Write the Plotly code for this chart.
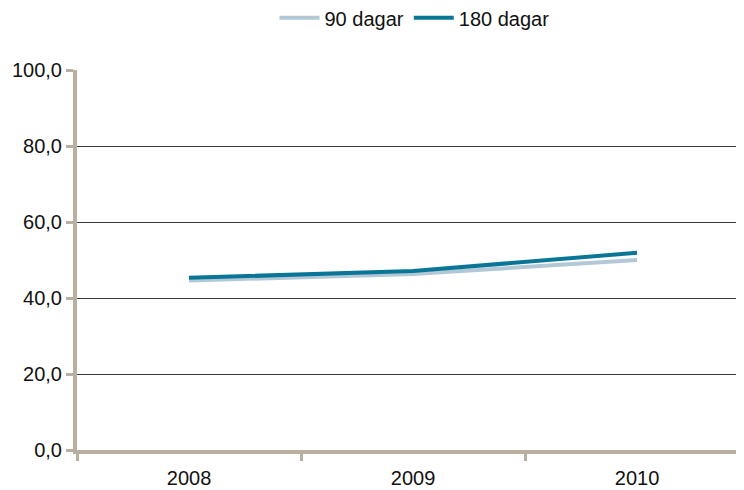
import plotly.graph_objects as go

years = ["2008", "2009", "2010"]
dagar_90 = [44.6, 46.3, 50.0]
dagar_180 = [45.3, 47.1, 51.9]
y_ticks = [0, 20, 40, 60, 80, 100]

axis_color = "#b8afa0"

fig = go.Figure()
fig.add_trace(go.Scatter(x=years, y=dagar_90, mode="lines", name="90 dagar",
                         line=dict(color="#b3c8d6", width=4)))
fig.add_trace(go.Scatter(x=years, y=dagar_180, mode="lines", name="180 dagar",
                         line=dict(color="#0a7697", width=4)))

fig.update_layout(
    width=744, height=490,
    margin=dict(l=69, r=0, t=62, b=48),
    paper_bgcolor="white", plot_bgcolor="white",
    font=dict(family="Liberation Sans, Arial, Helvetica, sans-serif", size=20, color="#111"),
    separators=", ",
    showlegend=True,
    legend=dict(orientation="h", x=0.5, xanchor="center", y=0.98, yanchor="middle",
                yref="container", font=dict(size=20), itemwidth=40, tracegroupgap=0),
    xaxis=dict(type="category", range=[-0.5, 2.513], tickson="boundaries",
               ticks="outside", ticklen=7, tickwidth=3, tickcolor=axis_color,
               showline=True, linecolor=axis_color, linewidth=4, ticklabelstandoff=7,
               showgrid=False, zeroline=False, automargin=False),
    yaxis=dict(range=[0, 100], tickvals=y_ticks, tickformat=".1f",
               ticks="outside", ticklen=7, tickwidth=3, tickcolor=axis_color,
               showline=True, linecolor=axis_color, linewidth=4,
               showgrid=True, gridcolor="#3a3a3a", gridwidth=1, zeroline=False,
               automargin=False),
)

fig.write_html("out.html")
